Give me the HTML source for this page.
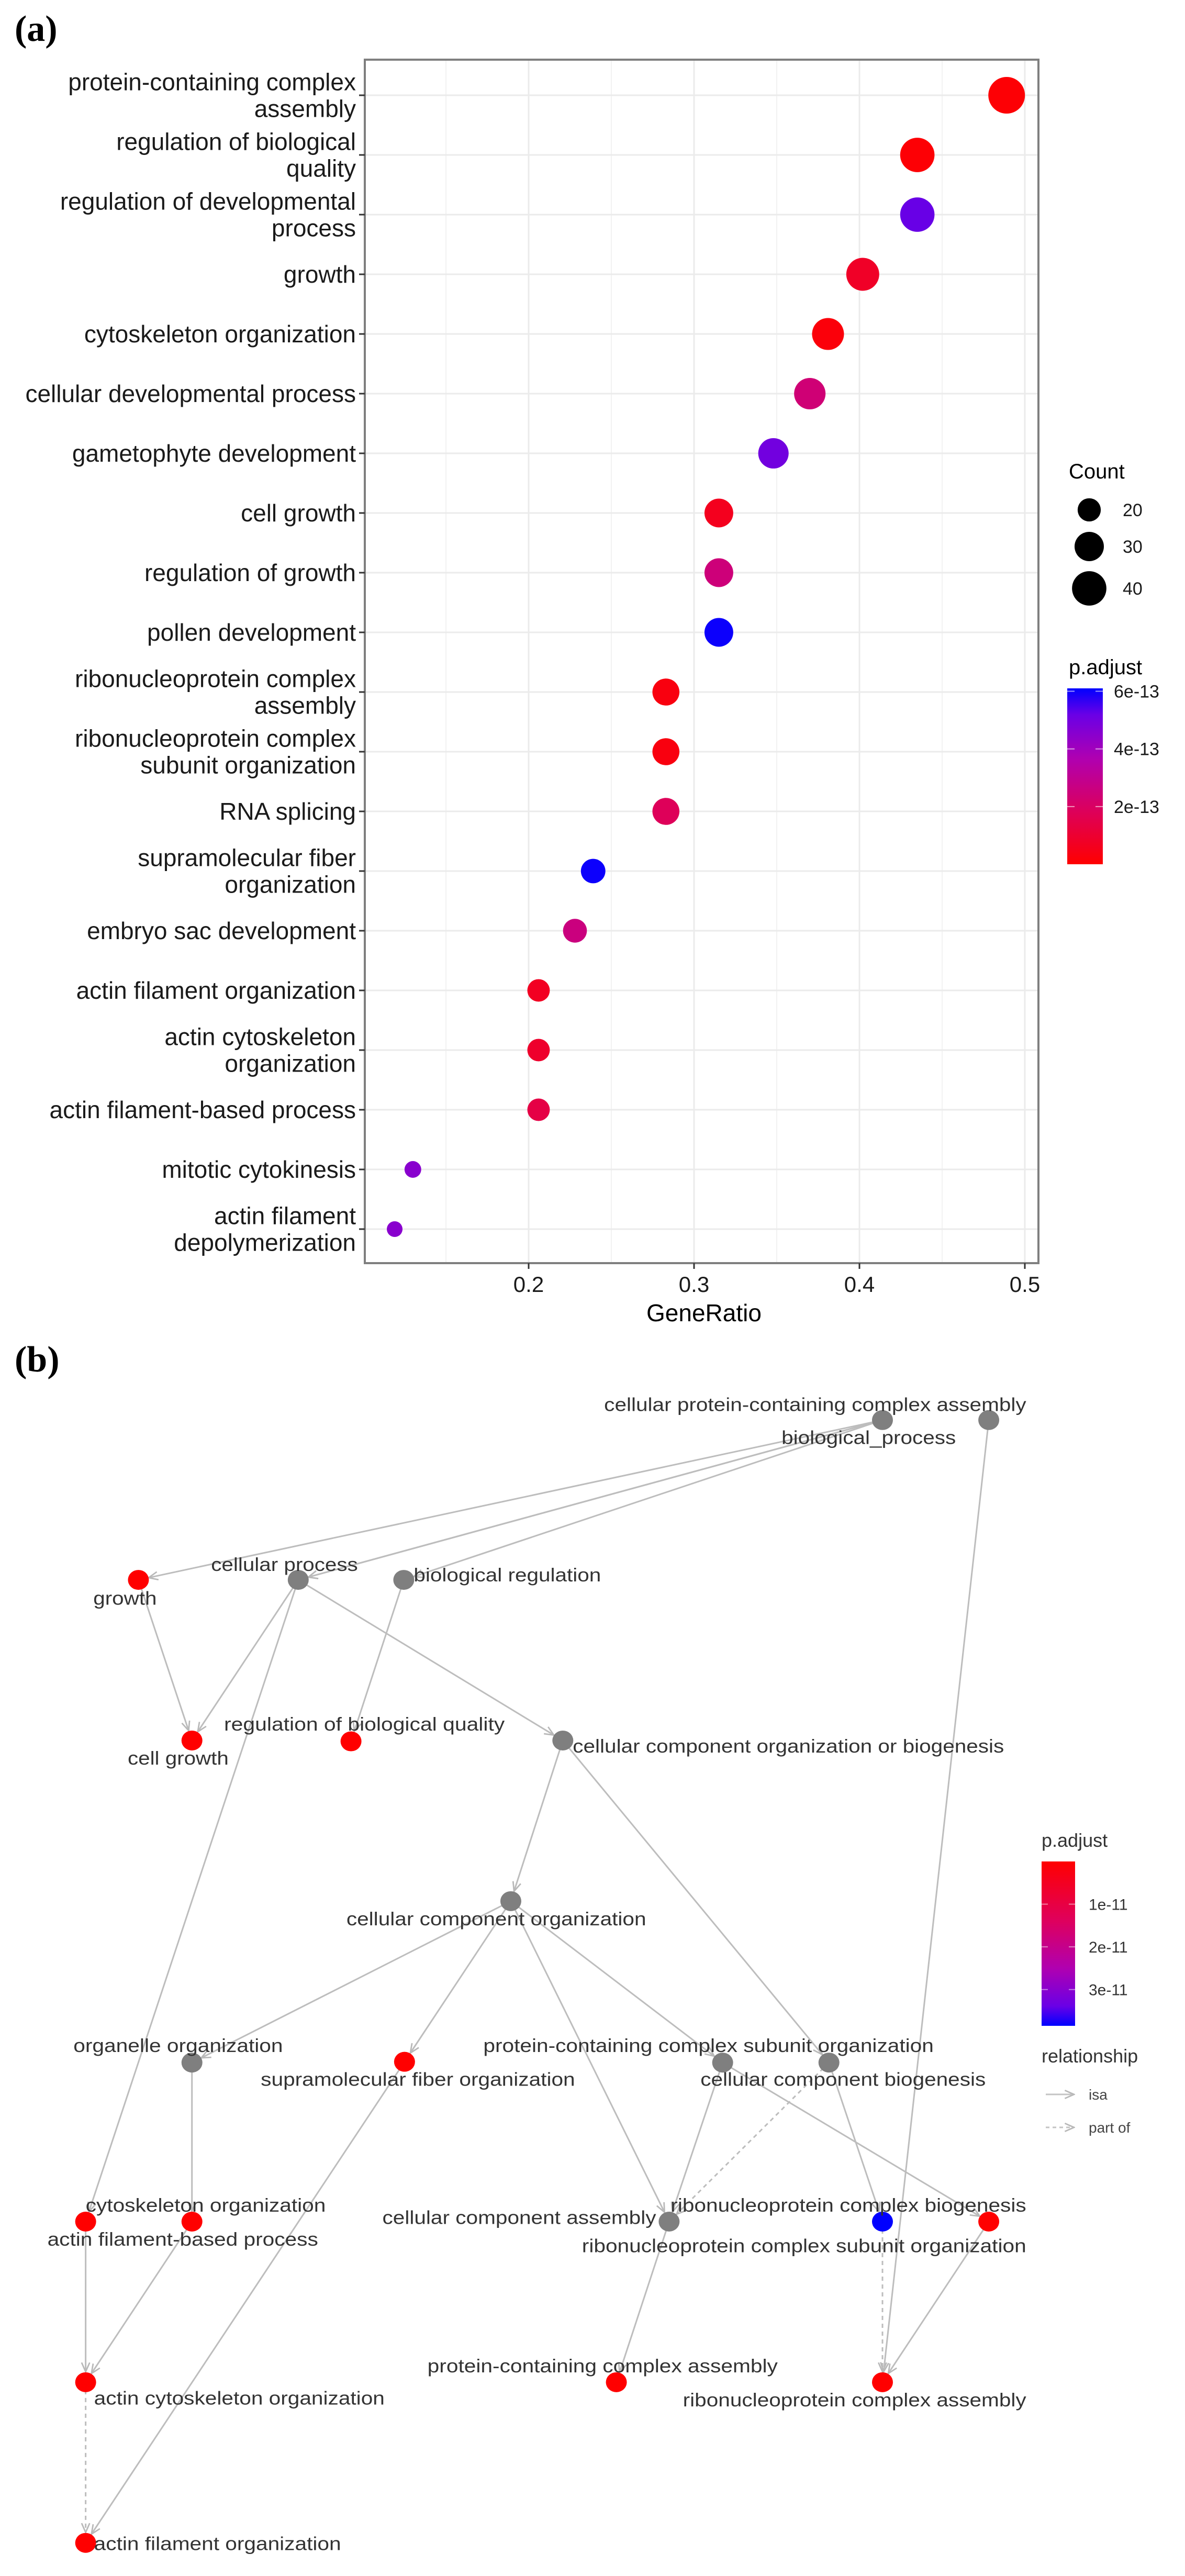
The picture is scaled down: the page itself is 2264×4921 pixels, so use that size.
<!DOCTYPE html>
<html><head><meta charset="utf-8">
<style>
html,body{margin:0;padding:0;background:#fff;}
svg{display:block;}
text{font-family:"Liberation Sans",Arial,sans-serif;}
</style></head>
<body>
<svg id="fig" width="2264" height="4921" viewBox="0 0 2264 4921" xmlns="http://www.w3.org/2000/svg">
<defs>
<linearGradient id="gradA" x1="0" y1="1" x2="0" y2="0">
<stop offset="0" stop-color="#FF0000"/><stop offset="0.3" stop-color="#DD005A"/><stop offset="0.6" stop-color="#B000B0"/><stop offset="0.85" stop-color="#6A00E6"/><stop offset="1" stop-color="#0000FF"/>
</linearGradient>
<linearGradient id="gradB" x1="0" y1="0" x2="0" y2="1">
<stop offset="0" stop-color="#FF0000"/><stop offset="0.35" stop-color="#E0005A"/><stop offset="0.65" stop-color="#B000B0"/><stop offset="0.88" stop-color="#6A00E6"/><stop offset="1" stop-color="#0000FF"/>
</linearGradient>
<marker id="arr" viewBox="0 0 20 20" refX="18" refY="10" markerWidth="22" markerHeight="22" markerUnits="userSpaceOnUse" orient="auto">
<path d="M2,3 L18,10 L2,17" fill="none" stroke="#b8b8b8" stroke-width="2.5"/>
</marker>
</defs>
<text x="28" y="78" font-size="70" font-weight="bold" style="font-family:'Liberation Serif',serif">(a)</text>
<g id="panelA"></g>
<text x="28" y="2620" font-size="70" font-weight="bold" style="font-family:'Liberation Serif',serif">(b)</text>
<g id="panelB"></g>
</svg>
<script>
// ---------- Panel (a) data ----------
const terms = [
 ["protein-containing complex","assembly"],["regulation of biological","quality"],["regulation of developmental","process"],
 ["growth"],["cytoskeleton organization"],["cellular developmental process"],["gametophyte development"],["cell growth"],
 ["regulation of growth"],["pollen development"],["ribonucleoprotein complex","assembly"],["ribonucleoprotein complex","subunit organization"],
 ["RNA splicing"],["supramolecular fiber","organization"],["embryo sac development"],["actin filament organization"],
 ["actin cytoskeleton","organization"],["actin filament-based process"],["mitotic cytokinesis"],["actin filament","depolymerization"]
];
const geneRatio = [0.489,0.435,0.435,0.402,0.381,0.370,0.348,0.315,0.315,0.315,0.283,0.283,0.283,0.239,0.228,0.206,0.206,0.206,0.130,0.119];
const counts = [45,40,40,37,35,34,32,29,29,29,26,26,26,22,21,19,19,19,12,11];
const padj = [0.1e-13,0.1e-13,5.2e-13,0.8e-13,0.2e-13,2.4e-13,5.0e-13,0.6e-13,2.5e-13,6.0e-13,0.3e-13,0.3e-13,1.8e-13,6.0e-13,2.6e-13,0.7e-13,0.9e-13,1.4e-13,4.5e-13,4.5e-13];
const xTicks = [0.2,0.3,0.4,0.5];
const xMinor = [0.15,0.25,0.35,0.45];
const countLegend = [20,30,40];
const padjTicks = [6e-13,4e-13,2e-13];
const padjTickLabels = ["6e-13","4e-13","2e-13"];

const NS="http://www.w3.org/2000/svg";
function mk(parent,tag,attrs){const e=document.createElementNS(NS,tag);for(const k in attrs)e.setAttribute(k,attrs[k]);parent.appendChild(e);return e;}

const PL=697,PR=1984,PT=114,PB=2413;
const xScale=v=>1010+(v-0.2)*3160;
const yScale=i=>182+i*114;
const rScale=c=>Math.sqrt(225+(c-11)*(1225-225)/34);
const stops=[[0,[255,0,0]],[0.3,[221,0,90]],[0.6,[176,0,176]],[0.85,[106,0,230]],[1,[0,0,255]]];
function colA(p){let t=Math.max(0,Math.min(1,p/6.1e-13));for(let i=1;i<stops.length;i++){if(t<=stops[i][0]){const a=stops[i-1],b=stops[i];const f=(t-a[0])/(b[0]-a[0]);const c=a[1].map((v,j)=>Math.round(v+(b[1][j]-v)*f));return `rgb(${c})`;}}return "rgb(0,0,255)";}

const A=document.getElementById('panelA');
const grid=mk(A,'g',{});


xMinor.forEach(v=>{const l=mk(grid,'line',{x1:xScale(v),x2:xScale(v),y1:PT,y2:PB,stroke:'#f2f2f2','stroke-width':2});
 
 });
xTicks.forEach(v=>{const l=mk(grid,'line',{x1:xScale(v),x2:xScale(v),y1:PT,y2:PB,stroke:'#ebebeb','stroke-width':3});
 
 });
terms.forEach((t,i)=>{const l=mk(grid,'line',{x1:PL,x2:PR,y1:yScale(i),y2:yScale(i),stroke:'#ebebeb','stroke-width':3});
 
 });
const border=mk(A,'rect',{x:PL,y:PT,width:PR-PL,height:PB-PT,fill:'none',stroke:'#7f7f7f','stroke-width':4});



// y labels
terms.forEach((lines,i)=>{
 const y=yScale(i);
 const tk=mk(A,'line',{x1:PL-11,x2:PL,y1:y,y2:y,stroke:'#333','stroke-width':3});
 
 
 const n=lines.length;
 lines.forEach((s,j)=>{
  const ty=y+(j-(n-1)/2)*51+16;
  const tx=mk(A,'text',{x:680,y:ty,'text-anchor':'end','font-size':46,fill:'#1a1a1a'});
  tx.textContent=s;
  
  
 });
});
// x ticks
xTicks.forEach(v=>{
 const tk=mk(A,'line',{x1:xScale(v),x2:xScale(v),y1:PB,y2:PB+11,stroke:'#333','stroke-width':3});
 
 
 const tx=mk(A,'text',{x:xScale(v),y:2468,'text-anchor':'middle','font-size':42,fill:'#1a1a1a'});
 tx.textContent=v.toFixed(1);
 
 
});
const xt=mk(A,'text',{x:1345,y:2524,'text-anchor':'middle','font-size':46,fill:'#000'});
xt.textContent='GeneRatio';


// dots
geneRatio.forEach((g,i)=>{
 const c=mk(A,'circle',{cx:xScale(g),cy:yScale(i),r:rScale(counts[i]),fill:colA(padj[i])});
 
 
});
// legend count
const lc=mk(A,'text',{x:2042,y:914,'font-size':40,fill:'#000'});
lc.textContent='Count';


const legY=[974,1044,1124];
countLegend.forEach((c,i)=>{
 const e=mk(A,'circle',{cx:2081,cy:legY[i],r:rScale(c),fill:'#000'});
 
 
 const t=mk(A,'text',{x:2145,y:legY[i]+12,'font-size':34,fill:'#1a1a1a'});
 t.textContent=c;
 
 
});
const pt=mk(A,'text',{x:2042,y:1288,'font-size':40,fill:'#000'});
pt.textContent='p.adjust';


const CB0=1651,CBtop=1315,pMax=6.1e-13;
const cbar=mk(A,'rect',{x:2039,y:CBtop,width:68,height:CB0-CBtop,fill:'url(#gradA)'});


padjTicks.forEach((p,i)=>{
 const y=CB0-(p/pMax)*(CB0-CBtop);
 mk(A,'line',{x1:2039,x2:2053,y1:y,y2:y,stroke:'#fff','stroke-opacity':0.6,'stroke-width':2});
 mk(A,'line',{x1:2093,x2:2107,y1:y,y2:y,stroke:'#fff','stroke-opacity':0.6,'stroke-width':2});
 const t=mk(A,'text',{x:2128,y:y+12,'font-size':34,fill:'#1a1a1a'});
 t.textContent=padjTickLabels[i];
 
 
});

// ---------- Panel (b) network ----------
const nodeNames=["biological_process","cellular protein-containing complex assembly","growth","cellular process","biological regulation","cell growth","regulation of biological quality","cellular component organization or biogenesis","cellular component organization","organelle organization","supramolecular fiber organization","protein-containing complex subunit organization","cellular component biogenesis","actin filament-based process","cytoskeleton organization","cellular component assembly","ribonucleoprotein complex biogenesis","ribonucleoprotein complex subunit organization","actin cytoskeleton organization","protein-containing complex assembly","ribonucleoprotein complex assembly","actin filament organization"];
const nodeX=[1154,1293,181,390,528,251,459,736,668,251,529,945,1084,112,251,875,1154,1293,112,806,1154,112];
const nodeY=[138,138,336,336,336,535,536,535,734,934,933,934,934,1131,1131,1131,1131,1131,1330,1330,1330,1529];
const nodeColor=["g","g","r","g","g","r","r","g","g","g","r","g","g","r","r","g","b","r","r","r","r","r"];
const labelX=[1022,790,122,276,541,167,293,749,453,96,341,632,916,62,112,500,877,761,123,559,893,123];
const labelY=[160,119,359,317,330,557,515,542,756,913,955,913,955,1153,1111,1126,1111,1161,1350,1310,1352,1530];
const labelW=[228,552,83,192,245,132,367,564,392,274,411,589,373,354,314,358,465,581,380,458,449,323];
const edgeFrom=[0,0,0,0,2,3,3,3,4,7,7,8,8,8,8,9,10,14,13,18,11,15,12,12,11,16,17,1];
const edgeTo=[2,3,3,4,5,5,13,7,6,8,12,9,10,15,11,14,21,18,18,21,15,19,16,15,17,20,20,20];
const edgeType=["isa","isa","isa","isa","isa","isa","isa","isa","isa","isa","isa","isa","isa","isa","isa","isa","isa","isa","isa","part","isa","isa","isa","part","isa","part","isa","isa"];
const padjBTicks=[1e-11,2e-11,3e-11];
const padjBLabels=["1e-11","2e-11","3e-11"];

const bx=d=>d*1.461, by=d=>2500+d*1.542;
const fillMap={g:'#7f7f7f',r:'#FF0000',b:'#0000FF'};
const B=document.getElementById('panelB');
edgeFrom.forEach((f,i)=>{
 const t=edgeTo[i];
 const x1=bx(nodeX[f]),y1=by(nodeY[f]),x2=bx(nodeX[t]),y2=by(nodeY[t]);
 const dx=x2-x1,dy=y2-y1,L=Math.hypot(dx,dy);
 const ex=x2-dx/L*20,ey=y2-dy/L*20;
 const a={x1:x1,y1:y1,x2:ex,y2:ey,stroke:'#bdbdbd','stroke-width':3,'marker-end':'url(#arr)'};
 if(edgeType[i]==='part')a['stroke-dasharray']='8 7';
 const l=mk(B,'line',a);
 
 
});
nodeNames.forEach((n,i)=>{
 const c=mk(B,'ellipse',{cx:bx(nodeX[i]),cy:by(nodeY[i]),rx:20,ry:19,fill:fillMap[nodeColor[i]]});
 
 
});
nodeNames.forEach((n,i)=>{
 const t=mk(B,'text',{x:bx(labelX[i]),y:by(labelY[i])+12,'font-size':36,fill:'#333',textLength:bx(labelW[i]),lengthAdjust:'spacingAndGlyphs'});
 t.textContent=n;
 
 
});
// legend b
const lb=mk(B,'text',{x:1990,y:3528,'font-size':36,fill:'#333'});
lb.textContent='p.adjust';


const BT=3556,BB=3870,BMax=3.85e-11;
const cb=mk(B,'rect',{x:1990,y:BT,width:64,height:BB-BT,fill:'url(#gradB)'});


padjBTicks.forEach((p,i)=>{
 const y=BT+(p/BMax)*(BB-BT);
 mk(B,'line',{x1:1990,x2:2002,y1:y,y2:y,stroke:'#fff','stroke-opacity':0.5,'stroke-width':2});
 mk(B,'line',{x1:2042,x2:2054,y1:y,y2:y,stroke:'#fff','stroke-opacity':0.5,'stroke-width':2});
 const t=mk(B,'text',{x:2080,y:y+11,'font-size':30,fill:'#333'});
 t.textContent=padjBLabels[i];
 
 
});
const rel=mk(B,'text',{x:1990,y:3940,'font-size':36,fill:'#333'});
rel.textContent='relationship';


const clipR=mk(B,'rect',{x:2192,y:3900,width:72,height:60,fill:'#fff'});


const relTypes=["isa","part of"], relY=[4001,4064];
relTypes.forEach((r,i)=>{
 const a={x1:1998,y1:relY[i],x2:2052,y2:relY[i],stroke:'#c4c4c4','stroke-width':3,'marker-end':'url(#arr)'};
 if(i===1)a['stroke-dasharray']='7 6';
 const l=mk(B,'line',a);
 
 
 const t=mk(B,'text',{x:2080,y:relY[i]+10,'font-size':28,fill:'#444'});
 t.textContent=r;
 
 
});
</script>
</body></html>
